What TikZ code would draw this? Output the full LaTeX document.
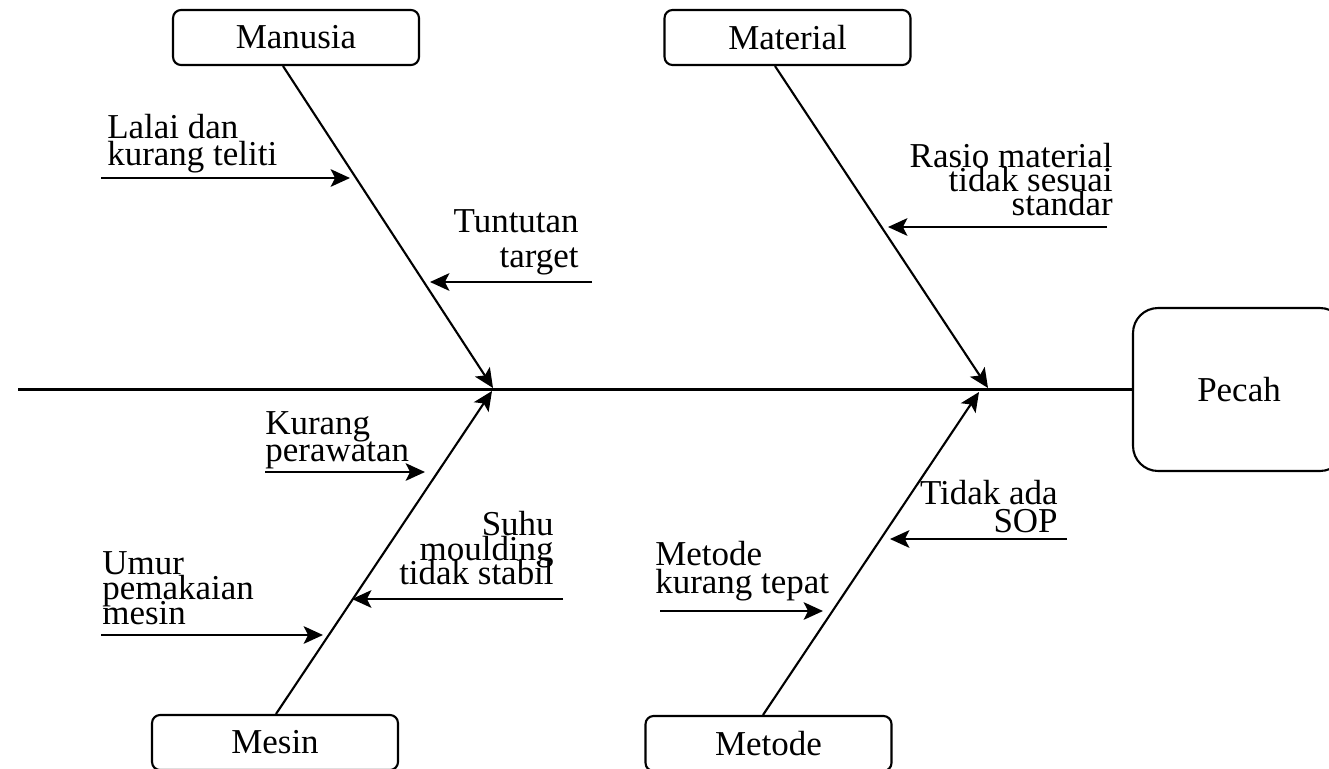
\documentclass[tikz,border=0pt]{standalone}
\usepackage{fontspec}
\setmainfont{Liberation Serif}
\usetikzlibrary{arrows.meta,calc}
\newcommand\fbfont[1][15.4pt]{\fontsize{19.9pt}{#1}\selectfont\lineskiplimit=-\maxdimen}

\begin{document}
\begin{tikzpicture}[x=0.02cm, y=-0.02cm,
  catbox/.style={draw, line width=1.2pt, rounded corners=0.16cm,
    minimum width=4.92cm, minimum height=1.1cm, font=\fbfont},
  bone/.style={line width=1.2pt, -{Stealth[length=11pt,width=10pt,inset=2.5pt]}},
  note/.style={inner sep=0pt, font=\fbfont}]
  \useasboundingbox (0,0) rectangle (1329,768);

  % Head and spine
  \node[draw, line width=1.2pt, rounded corners=0.5cm, minimum width=4.24cm,
    minimum height=3.26cm, font=\fbfont] (pecah) at (1239,389.5) {Pecah};
  \coordinate (spine) at (18,389.5);
  \draw[line width=1.2pt] (spine) -- (pecah.west);

  % Category boxes
  \node[catbox] (manusia)  at (296,37.5)  {Manusia};
  \node[catbox] (material) at (787.5,37.5) {Material};
  \node[catbox] (mesin)    at (275,742.5) {Mesin};
  \node[catbox] (metode)   at (768.5,743.5) {Metode};

  % Bones
  \coordinate (hman) at (493,388);
  \coordinate (hmes) at (492,391);
  \coordinate (hmat) at (988,388);
  \coordinate (hmet) at (979,392);
  \draw[bone] ([xshift=-0.26cm]manusia.south) -- (hman);
  \draw[bone] ([xshift=-0.25cm]material.south) -- (hmat);
  \draw[bone] ([xshift=0.02cm]mesin.north) -- (hmes);
  \draw[bone] ([xshift=-0.11cm]metode.north) -- (hmet);

  % Causes
  \node[note, anchor=north west, align=left] (lalai) at (107,114)
    {Lalai dan\\kurang teliti};
  \node[note, anchor=north east, align=right, font={\fbfont[19.9pt]}] (tuntutan)
    at (579,209) {Tuntutan\\target};
  \node[note, anchor=north east, align=right, font={\fbfont[13.6pt]}] (rasio)
    at (1113,143) {Rasio material\\tidak sesuai\\standar};
  \node[note, anchor=north west, align=left] (kurang) at (265,411)
    {Kurang\\perawatan};
  \node[note, anchor=north east, align=right, font={\fbfont[14pt]}] (suhu)
    at (554,511) {Suhu\\moulding\\tidak stabil};
  \node[note, anchor=north west, align=left, font={\fbfont[14.2pt]}] (umur)
    at (102,551) {Umur\\pemakaian\\mesin};
  \node[note, anchor=north west, align=left, font={\fbfont[15.9pt]}] (metkur)
    at (655,541) {Metode\\kurang tepat};
  \node[note, anchor=north east, align=right, font={\fbfont[15.9pt]}] (sop)
    at (1058,480) {Tidak ada\\SOP};

  % Cause arrows
  \foreach \n/\a/\b/\y in {lal/101/350/178, tun/592/430/282, ras/1107/888/227,
      kur/265/425/472, suh/563/352/599, umu/101/323/635,
      mkt/660/823/611, sop/1067/890/539} {
    \coordinate (\n0) at (\a,\y);
    \coordinate (\n1) at (\b,\y);
    \draw[bone] (\n0) -- (\n1);
  }
\end{tikzpicture}
\end{document}
